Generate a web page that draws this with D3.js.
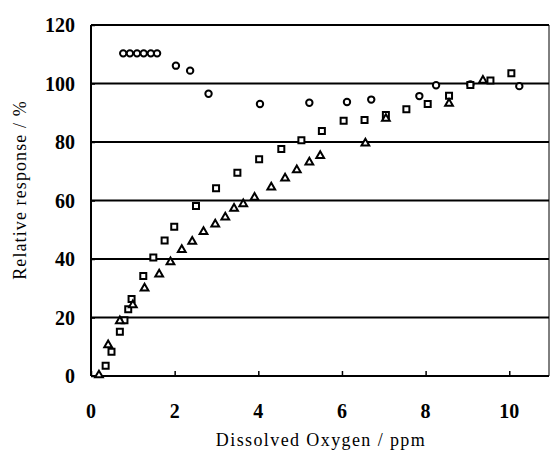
<!DOCTYPE html>
<html>
<head>
<meta charset="utf-8">
<script src="https://cdn.jsdelivr.net/npm/d3@7/dist/d3.min.js"></script>
<style>
  html, body { margin: 0; padding: 0; background: #fff; }
  svg { display: block; }
</style>
</head>
<body>
<svg id="chart" width="550" height="454"></svg>
<script>
// Relative response of the sensor versus dissolved oxygen, three electrode runs.
const xTicks = [0, 2, 4, 6, 8, 10];
const yTicks = [0, 20, 40, 60, 80, 100, 120];

// Run 1 (open circles): [ppm, %]
const circleSeries = [
  [0.77, 110.3], [0.93, 110.3], [1.10, 110.3], [1.26, 110.3], [1.43, 110.3], [1.58, 110.3],
  [2.03, 106.1], [2.37, 104.4], [2.81, 96.5], [4.04, 93.0], [5.22, 93.4], [6.12, 93.7],
  [6.70, 94.5], [7.85, 95.7], [8.25, 99.4], [9.07, 99.7], [10.24, 99.1]
];

// Run 2 (open squares)
const squareSeries = [
  [0.35, 3.5], [0.49, 8.3], [0.69, 15.1], [0.80, 19.1], [0.89, 22.8], [0.97, 26.3],
  [1.25, 34.2], [1.49, 40.5], [1.76, 46.3], [1.99, 51.0], [2.51, 58.1], [2.99, 64.2],
  [3.50, 69.5], [4.02, 74.1], [4.55, 77.6], [5.03, 80.6], [5.52, 83.8], [6.04, 87.3],
  [6.54, 87.5], [7.05, 89.2], [7.54, 91.2], [8.05, 93.0], [8.56, 95.8], [9.07, 99.5],
  [9.55, 101.0], [10.05, 103.5]
];

// Run 3 (open triangles)
const triangleSeries = [
  [0.19, 0.3], [0.41, 10.6], [0.69, 18.8], [1.00, 24.3], [1.28, 30.0], [1.63, 34.8],
  [1.90, 39.0], [2.17, 43.2], [2.42, 46.0], [2.69, 49.3], [2.97, 51.9], [3.21, 54.3],
  [3.42, 57.3], [3.64, 58.8], [3.91, 61.0], [4.31, 64.5], [4.64, 67.6], [4.92, 70.4],
  [5.22, 73.1], [5.48, 75.3], [6.56, 79.6], [7.05, 88.0], [8.56, 93.2], [9.37, 101.0]
];

const svg = d3.select("#chart");
const plotLeft = 91, plotRight = 549, plotTop = 25, plotBottom = 376;

const x = d3.scaleLinear().domain([0, 10.95]).range([plotLeft, plotRight]);
const y = d3.scaleLinear().domain([0, 120]).range([plotBottom, plotTop]);

const serif = "'Liberation Serif', 'Times New Roman', serif";

// Horizontal rules at every y tick (the top one doubles as the frame)
svg.append("g")
  .selectAll("line")
  .data(yTicks.filter(d => d > 0))
  .join("line")
  .attr("x1", plotLeft).attr("x2", plotRight)
  .attr("y1", d => y(d)).attr("y2", d => y(d))
  .attr("stroke", "#000")
  .attr("stroke-width", 2);

// Right edge of the frame
svg.append("line")
  .attr("x1", plotRight).attr("x2", plotRight)
  .attr("y1", y(120)).attr("y2", y(0))
  .attr("stroke", "#000").attr("stroke-width", 1);

// Bottom axis with inward ticks
const xAxis = d3.axisBottom(x).tickValues(xTicks).tickSize(-5).tickPadding(0).tickFormat("");
const gx = svg.append("g").attr("transform", `translate(0,${plotBottom})`).call(xAxis);
gx.select(".domain").attr("stroke", "#000").attr("stroke-width", 2).attr("d", `M${plotLeft},0H${plotRight}`);
gx.selectAll(".tick line").attr("stroke", "#000").attr("stroke-width", 1.5);

// Left axis with inward ticks
const yAxis = d3.axisLeft(y).tickValues(yTicks).tickSize(-4).tickFormat("");
const gy = svg.append("g").attr("transform", `translate(${plotLeft},0)`).call(yAxis);
gy.select(".domain").attr("stroke", "#000").attr("stroke-width", 2).attr("d", `M0,${plotBottom}V${plotTop}`);
gy.selectAll(".tick line").attr("stroke", "#000").attr("stroke-width", 1.5);

// Tick labels
svg.append("g")
  .selectAll("text")
  .data(xTicks)
  .join("text")
  .attr("x", d => x(d))
  .attr("y", 418)
  .attr("text-anchor", "middle")
  .attr("font-family", serif)
  .attr("font-weight", "bold")
  .attr("font-size", 20)
  .text(d => d);

svg.append("g")
  .selectAll("text")
  .data(yTicks)
  .join("text")
  .attr("x", 75)
  .attr("y", d => y(d) + 7)
  .attr("text-anchor", "end")
  .attr("font-family", serif)
  .attr("font-weight", "bold")
  .attr("font-size", 20)
  .text(d => d);

// Axis titles
svg.append("text")
  .attr("x", 321)
  .attr("y", 446)
  .attr("text-anchor", "middle")
  .attr("font-family", serif)
  .attr("font-size", 18)
  .attr("letter-spacing", 1.4)
  .text("Dissolved Oxygen / ppm");

svg.append("text")
  .attr("transform", "translate(26,190) rotate(-90)")
  .attr("text-anchor", "middle")
  .attr("font-family", serif)
  .attr("font-size", 18)
  .attr("letter-spacing", 1.1)
  .text("Relative response / %");

// Markers
const marks = svg.append("g").attr("fill", "#fff").attr("stroke", "#000").attr("stroke-width", 2);

marks.selectAll("circle.run1")
  .data(circleSeries)
  .join("circle")
  .attr("class", "run1")
  .attr("cx", d => x(d[0]))
  .attr("cy", d => y(d[1]))
  .attr("r", 3.2);

const sq = d3.symbol().type(d3.symbolSquare).size(36);
marks.selectAll("path.run2")
  .data(squareSeries)
  .join("path")
  .attr("class", "run2")
  .attr("transform", d => `translate(${x(d[0])},${y(d[1])})`)
  .attr("d", sq);

const tri = d3.symbol().type(d3.symbolTriangle).size(26);
marks.selectAll("path.run3")
  .data(triangleSeries)
  .join("path")
  .attr("class", "run3")
  .attr("transform", d => `translate(${x(d[0])},${y(d[1])})`)
  .attr("d", tri);
</script>
</body>
</html>
